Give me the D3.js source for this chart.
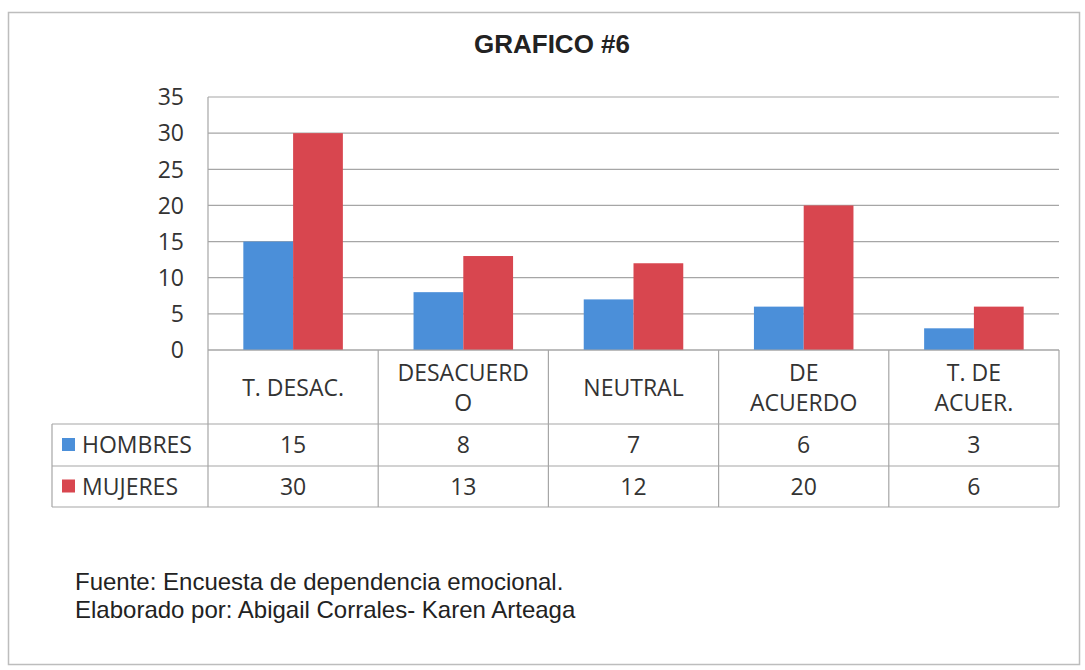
<!DOCTYPE html>
<html>
<head>
<meta charset="utf-8">
<script src="https://cdn.jsdelivr.net/npm/d3@7"></script>
<style>
	body { margin: 0; background: #fff; }
</style>
</head>
<body>
<div class="chart"></div>
<script>
var categories = [['T. DESAC.'], ['DESACUERD', 'O'], ['NEUTRAL'], ['DE', 'ACUERDO'], ['T. DE', 'ACUER.']],
	seriesNames = ['HOMBRES', 'MUJERES'],
	hombres = [15, 8, 7, 6, 3],
	mujeres = [30, 13, 12, 20, 6],
	yTicks = [0, 5, 10, 15, 20, 25, 30, 35],
	footnotes = ['Fuente: Encuesta de dependencia emocional.', 'Elaborado por: Abigail Corrales- Karen Arteaga'];

var blue = '#4b8fd9',
	red = '#d8464f',
	gridColor = '#a6a6a6',
	textColor = '#333',
	bodyFont = '"Open Sans", "Noto Sans", sans-serif',
	bodySize = '23px';

var width = 1085, height = 670;
var plot = {left: 208, right: 1059, top: 97, bottom: 350};
var rowY = [350, 424, 466, 507];
var tableLeft = 52;

var svg = d3.select('.chart').append('svg')
	.attr('width', width)
	.attr('height', height);

// Outer frame
svg.append('rect')
	.attr('x', 8.5).attr('y', 12.5)
	.attr('width', 1071).attr('height', 652)
	.attr('fill', 'none')
	.attr('stroke', '#bdbdbd')
	.attr('stroke-width', 1.5);

svg.append('text')
	.attr('x', 552).attr('y', 53)
	.attr('text-anchor', 'middle')
	.attr('font-family', '"Liberation Sans", Arial, sans-serif')
	.attr('font-weight', 'bold')
	.attr('font-size', '26px')
	.attr('fill', '#222')
	.text('GRAFICO #6');

var x = d3.scaleBand().domain(d3.range(categories.length)).range([plot.left, plot.right]);
var y = d3.scaleLinear().domain([0, 35]).range([plot.bottom, plot.top]);
var inner = d3.scaleBand().domain([0, 1]).range([0, x.bandwidth()]).paddingOuter(0.71).paddingInner(0);

// Gridlines
svg.append('g')
	.selectAll('line')
	.data(yTicks)
	.join('line')
	.attr('x1', plot.left).attr('x2', plot.right)
	.attr('y1', function(d) { return y(d); })
	.attr('y2', function(d) { return y(d); })
	.attr('stroke', gridColor)
	.attr('stroke-width', 1.2);

svg.append('line')
	.attr('x1', plot.left).attr('x2', plot.left)
	.attr('y1', plot.top).attr('y2', plot.bottom)
	.attr('stroke', gridColor).attr('stroke-width', 1.2);

// Y axis labels
svg.append('g')
	.selectAll('text')
	.data(yTicks)
	.join('text')
	.attr('x', 184)
	.attr('y', function(d) { return y(d); })
	.attr('dy', '0.36em')
	.attr('text-anchor', 'end')
	.attr('font-family', bodyFont)
	.attr('font-size', bodySize)
	.attr('fill', textColor)
	.text(function(d) { return d; });

// Bars
var series = [hombres, mujeres], colors = [blue, red];
series.forEach(function(vals, s) {
	svg.append('g')
		.selectAll('rect')
		.data(vals)
		.join('rect')
		.attr('x', function(d, i) { return x(i) + inner(s); })
		.attr('y', function(d) { return y(d); })
		.attr('width', inner.bandwidth())
		.attr('height', function(d) { return y(0) - y(d); })
		.attr('fill', colors[s]);
});

// Data table
var tbl = svg.append('g').attr('stroke', gridColor).attr('stroke-width', 1.2);
tbl.append('line').attr('x1', plot.left).attr('x2', plot.right).attr('y1', rowY[0]).attr('y2', rowY[0]);
[1, 2, 3].forEach(function(r) {
	tbl.append('line').attr('x1', tableLeft).attr('x2', plot.right).attr('y1', rowY[r]).attr('y2', rowY[r]);
});
tbl.append('line').attr('x1', tableLeft).attr('x2', tableLeft).attr('y1', rowY[1]).attr('y2', rowY[3]);
d3.range(categories.length + 1).forEach(function(i) {
	var xv = i < categories.length ? x(i) : plot.right;
	tbl.append('line').attr('x1', xv).attr('x2', xv).attr('y1', rowY[0]).attr('y2', rowY[3]);
});

// category labels
categories.forEach(function(lines, i) {
	var cx = x(i) + x.bandwidth() / 2,
		cy = (rowY[0] + rowY[1]) / 2 + 1 - (lines.length - 1) * 15;
	lines.forEach(function(l, j) {
		svg.append('text')
			.attr('x', cx).attr('y', cy + j * 30)
			.attr('dy', '0.36em')
			.attr('text-anchor', 'middle')
			.attr('font-family', bodyFont)
			.attr('font-size', bodySize)
			.attr('fill', textColor)
			.text(l);
	});
});

// series rows
series.forEach(function(vals, s) {
	var cy = (rowY[s + 1] + rowY[s + 2]) / 2;
	svg.append('rect')
		.attr('x', 62).attr('y', cy - 7)
		.attr('width', 13).attr('height', 13)
		.attr('fill', colors[s]);
	svg.append('text')
		.attr('x', 82).attr('y', cy)
		.attr('dy', '0.36em')
		.attr('font-family', bodyFont)
		.attr('font-size', bodySize)
		.attr('fill', textColor)
		.text(seriesNames[s]);
	svg.append('g')
		.selectAll('text')
		.data(vals)
		.join('text')
		.attr('x', function(d, i) { return x(i) + x.bandwidth() / 2; })
		.attr('y', cy)
		.attr('dy', '0.36em')
		.attr('text-anchor', 'middle')
		.attr('font-family', bodyFont)
		.attr('font-size', bodySize)
		.attr('fill', textColor)
		.text(function(d) { return d; });
});

// Footnotes
footnotes.forEach(function(t, i) {
	svg.append('text')
		.attr('x', 75).attr('y', 590 + i * 28)
		.attr('font-family', '"Liberation Sans", Arial, sans-serif')
		.attr('font-size', '24px')
		.attr('fill', '#222')
		.text(t);
});
</script>
</body>
</html>
